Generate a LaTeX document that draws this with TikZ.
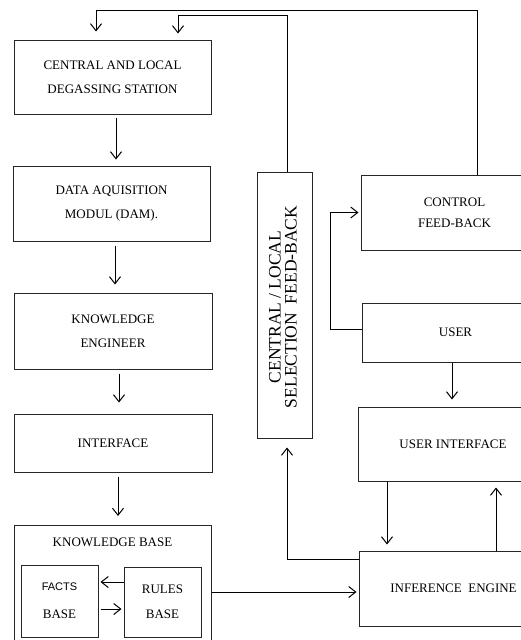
\documentclass[tikz,border=0pt]{standalone}
\usepackage{fontspec}
\setmainfont{Liberation Serif}
\newfontfamily\factsfont{Liberation Sans}
\usetikzlibrary{calc}
\usetikzlibrary{arrows.meta}

\begin{document}
\begin{tikzpicture}[x=1pt, y=-1pt,
	box/.style={draw=black!85, line width=1pt, inner sep=0pt, align=center, font=\fontsize{13}{24}\selectfont},
	arr/.style={line width=1pt, -{Straight Barb[length=7pt, width=11pt]}},
	feed/.style={line width=1.8pt}]

		\useasboundingbox (0,0) rectangle (520,640);

		\def \lw{197pt};
		\def \rw{187pt};

		% left column
		\coordinate (mystation) at (112.5, 77);
		\node[box, minimum width=\lw, minimum height=74pt] (station) at (mystation) {CENTRAL AND LOCAL\\DEGASSING STATION};

		\coordinate (mydam) at (111.5, 203.5);
		\node[box, minimum width=\lw, minimum height=75pt] (dam) at (mydam) {DATA AQUISITION\\MODUL (DAM).};

		\coordinate (myke) at (113, 331);
		\node[box, minimum width=198pt, minimum height=76pt] (ke) at (myke) {KNOWLEDGE\\ENGINEER};

		\coordinate (myintf) at (113, 443);
		\node[box, minimum width=198pt, minimum height=58pt] (intf) at (myintf) {INTERFACE};

		\coordinate (mykb) at (112.5, 588);
		\node[box, minimum width=\lw, minimum height=125pt] (kb) at (mykb) {};
		\node[font=\fontsize{13}{24}\selectfont] (kbtitle) at ($(mykb)+(0,-46)$) {KNOWLEDGE BASE};

		\node[box, minimum width=77pt, minimum height=72pt, font=\fontsize{13}{28}\selectfont] (facts) at (59.5, 601) {{\factsfont\fontsize{11}{28}\selectfont FACTS}\\BASE};
		\node[box, minimum width=77pt, minimum height=70pt, font=\fontsize{13}{25}\selectfont] (rules) at (162.5, 602) {RULES\\BASE};

		% selection feed-back
		\coordinate (myselect) at (284.5, 305);
		\node[box, minimum width=55pt, minimum height=266pt] (select) at (myselect) {};
		\node[rotate=90, align=center, inner sep=0pt, font=\fontsize{17.5}{16}\selectfont] (selecttxt) at ($(myselect)+(-1.5,2)$) {CENTRAL / LOCAL\\SELECTION\ \ FEED-BACK};

		% right column
		\node[box, minimum width=\rw, minimum height=75pt, font=\fontsize{13}{21}\selectfont] (ctrl) at (454.5, 212.5) {CONTROL\\FEED-BACK};
		\node[box, minimum width=\rw, minimum height=59pt] (user) at (455.5, 332.5) {USER};
		\node[box, minimum width=190pt, minimum height=74pt] (ui) at (453, 444) {USER INTERFACE};
		\node[box, minimum width=189pt, minimum height=75pt] (inf) at (453.5, 588.5) {INFERENCE\ \ ENGINE};

		% flow down the left column
		\draw[arr] ($(station.south)+(3.5,3)$) -- ($(dam.north)+(4.5,-6)$);
		\draw[arr] ($(dam.south)+(3.5,4)$) -- ($(ke.north)+(2,-8)$);
		\draw[arr] ($(ke.south)+(6,4)$) -- ($(intf.north)+(6,-11)$);
		\draw[arr] ($(intf.south)+(5,4)$) -- ($(kb.north)+(5.5,-9)$);

		\draw[arr] ($(rules.west)+(0,-20)$) -- ($(facts.east)+(2,-19)$);
		\draw[arr] ($(facts.east)+(2,8)$) -- ($(rules.west)+(-2,7)$);
		\draw[arr] ($(kb.east)+(0,4)$) -- ($(inf.west)+(-2,3.5)$);

		% right column
		\draw[arr] ($(user.south)+(-3.5,0)$) -- ($(ui.north)+(-1,-7)$);
		\draw[arr] ($(ui.south)+(-66,0)$) -- ($(inf.north)+(-66.5,-6)$);
		\draw[arr] ($(inf.north)+(42.5,0)$) -- ($(ui.south)+(43,6)$);

		% feed-back lines
		\draw[feed, arr] ($(inf.west)+(0,-29.5)$) -| ($(select.south)+(2.5,9)$);
		\draw[feed, arr] ($(user.west)+(0,-3.5)$) -- ++(-31,0) |- ($(ctrl.west)+(-2,0)$);
		\draw[feed, arr] ($(ctrl.north)+(22.5,0)$) |- ($(station.north)+(-16.5,-29)$) -- ($(station.north)+(-16.5,-8)$);
		\draw[feed, arr] ($(select.north)+(2.5,0)$) |- ($(station.north)+(65.5,-24)$) -- ($(station.north)+(65.5,-6)$);

	\end{tikzpicture}
\end{document}
